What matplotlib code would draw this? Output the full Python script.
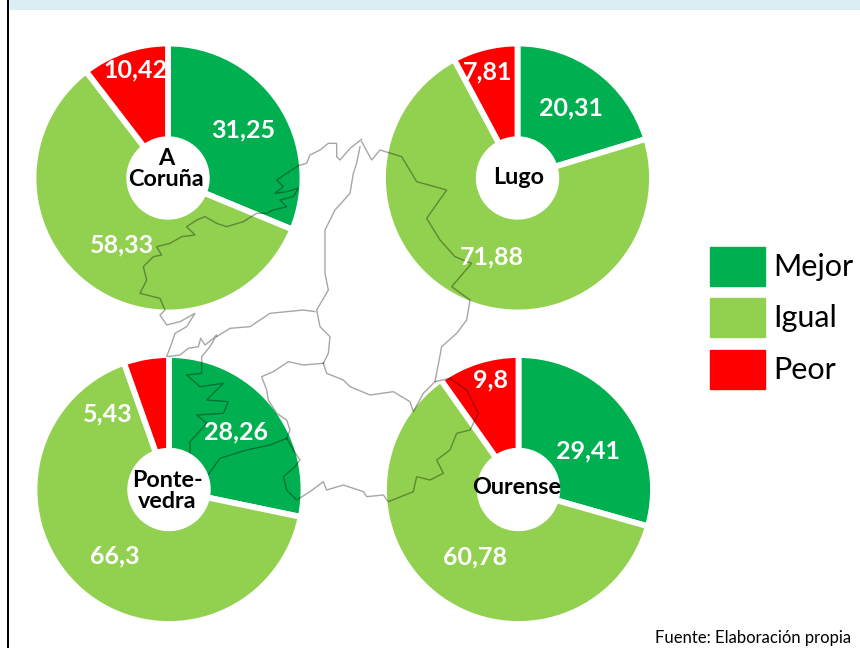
import numpy as np
import matplotlib
matplotlib.use("Agg")
import matplotlib.pyplot as plt
from matplotlib.patches import Rectangle, Circle

plt.rcParams['font.family'] = ['Lato', 'DejaVu Sans']

W, H = 860, 648

categories = ["Mejor", "Igual", "Peor"]
colors = ["#00B050", "#92D050", "#FF0000"]

coruna = [31.25, 58.33, 10.42]
lugo = [20.31, 71.88, 7.81]
pontevedra = [28.26, 66.3, 5.43]
ourense = [29.41, 60.78, 9.8]

coruna_txt = ["31,25", "58,33", "10,42"]
lugo_txt = ["20,31", "71,88", "7,81"]
pontevedra_txt = ["28,26", "66,3", "5,43"]
ourense_txt = ["29,41", "60,78", "9,8"]

# map outline (crop coords: 3x, origin 130,130)
coast = [(695,28),(660,55),(630,90),(620,80),(620,40),(595,40),(570,60),(540,75),(530,100),(505,107),
         (470,130),(440,150),(460,170),(435,190),(470,185),(505,175),(490,200),(450,210),(470,230),(430,240),
         (410,250),(380,250),(340,275),(290,290),(260,280),(225,260),(200,270),(170,290),(195,315),(155,320),
         (120,340),(80,350),(95,375),(70,380),(40,410),(50,450),(30,490),(90,505),(105,540),(90,555),
         (110,585),(150,575),(195,550),(170,590),(135,610),(125,640),(110,680),(150,675),(175,655),(205,650),
         (212,625),(225,645),(250,625),(260,615),(240,650),(215,680),(215,730),(170,735),(210,770),(280,760),
         (230,810),(295,815),(280,850),(200,855),(230,880),(180,935),(180,1000),(195,1060),(230,1040),(270,985),
         (350,960),(420,945),(470,925),(490,960),(510,990),(495,1010),(460,1040),(470,1080),(500,1110),(540,1085),
         (580,1055),(590,1080),(640,1065),(700,1085),(710,1100),(760,1095),(775,1115),(850,1085),(860,1040),(900,1050),
         (940,1030),(920,990),(960,960),(980,910),(1020,900),(1045,850),(1010,780),(960,745),(915,755),(935,650),
         (980,610),(1010,570),(1020,510),(965,470),(1025,400),(975,380),(930,330),(890,265),(950,180),(860,155),
         (815,80),(750,60),(725,90),(695,35)]
border_lugo_coruna = [(690,50),(680,100),(670,130),(660,190),(615,240),(585,300),(585,430),(595,480),(560,540),
                      (570,590),(600,620),(595,670),(580,700)]
border_coruna_ponte = [(260,620),(300,595),(360,590),(420,550),(470,545),(520,540),(555,545)]
border_ponte_ourense = [(580,700),(520,705),(475,695),(430,725),(395,740),(410,780),(415,810),(440,850),(470,870),
                        (480,900),(470,925)]
border_lugo_ourense = [(580,700),(590,730),(640,750),(660,770),(720,795),(790,785),(840,815),(850,845),(880,790),(915,755)]


def py(y):
    return H - y


fig = plt.figure(figsize=(8.6, 6.48), dpi=100)
ax = fig.add_axes([0, 0, 1, 1])

pies = [
    (coruna, coruna_txt, (168, 178), 134.5, [(243, 130), (122, 245), (135, 70)]),
    (lugo, lugo_txt, (517.5, 178), 134.5, [(571, 108), (492, 257), (488, 72)]),
    (pontevedra, pontevedra_txt, (169, 489.5), 134.5, [(236, 432), (115, 556), (108, 414)]),
    (ourense, ourense_txt, (518.5, 489.5), 134.5, [(588, 451), (475, 557), (490, 380)]),
]

for vals, txts, (cx, cy), r, label_pos in pies:
    ax.pie(vals, colors=colors, center=(cx, py(cy)), radius=r, startangle=90, counterclock=False,
           wedgeprops=dict(edgecolor="white", linewidth=4.2))

for path in [coast, border_lugo_coruna, border_coruna_ponte, border_ponte_ourense, border_lugo_ourense]:
    pts = np.array(path) / 3 + 130
    ax.plot(pts[:, 0], py(pts[:, 1]), color="black", alpha=0.35, lw=1.0, zorder=3)

for vals, txts, (cx, cy), r, label_pos in pies:
    ax.add_patch(Circle((cx, py(cy)), 41, color="white", zorder=4))
    for t, (x, y) in zip(txts, label_pos):
        ax.text(x, py(y), t, color="white", fontsize=18, fontweight="bold", ha="center", va="center", zorder=5)

names = [("A\nCoruña", 166, 169), ("Lugo", 519, 178), ("Ponte-\nvedra", 167, 491), ("Ourense", 517, 488)]
for name, x, y in names:
    ax.text(x, py(y), name, color="black", fontsize=16.8, fontweight="bold", ha="center", va="center",
            linespacing=1.0, zorder=6)

# legend
for cat, col, top in zip(categories, colors, [247, 298, 350]):
    ax.add_patch(Rectangle((710, py(top + 39)), 55, 39, color=col, zorder=2))
    ax.text(773, py(top + 20), cat, fontsize=22, color="black", ha="left", va="center")

# frame and top band
ax.add_patch(Rectangle((9, py(10)), W - 9, 10, color="#DAEEF3", lw=0, zorder=1))
ax.add_patch(Rectangle((7, 0), 2, H, color="black", lw=0, zorder=1))

ax.text(851, py(638), "Fuente: Elaboración propia", fontsize=12, color="black", ha="right", va="center")

ax.set_xlim(0, W)
ax.set_ylim(0, H)
ax.set_aspect("auto")
ax.axis("off")

fig.savefig("out.png", dpi=100)
